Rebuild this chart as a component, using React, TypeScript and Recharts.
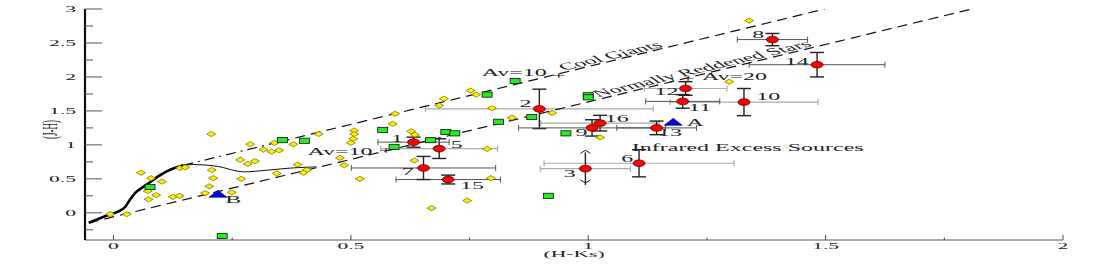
import React from "react";
import { ComposedChart, Scatter, XAxis, YAxis, ErrorBar } from "recharts";

// The source figure is stretched sideways, so text and markers are drawn wide.
const SX = 2.4;
const FONT = "'Liberation Serif', 'Times New Roman', serif";

const xDomain = [-0.06, 2];
const yDomain = [-0.4, 3];
const xTicks = [0, 0.25, 0.5, 0.75, 1, 1.25, 1.5, 1.75, 2];
const xTickLabels = ["0", "", "0.5", "", "1", "", "1.5", "", "2"];
const yTicks = [-0.25, 0, 0.25, 0.5, 0.75, 1, 1.25, 1.5, 1.75, 2, 2.25, 2.5, 2.75, 3];
const yTickLabels = ["", "0", "", "0.5", "", "1", "", "1.5", "", "2", "", "2.5", "", "3"];

// intrinsic colour locus (thick giant branch + thin dwarf part)
const locusThick = [
  { x: -0.052, y: -0.147 }, { x: -0.018, y: -0.05 }, { x: 0.007, y: 0.01 },
  { x: 0.025, y: 0.09 }, { x: 0.035, y: 0.196 }, { x: 0.046, y: 0.294 },
  { x: 0.06, y: 0.368 }, { x: 0.077, y: 0.45 }, { x: 0.095, y: 0.539 },
  { x: 0.112, y: 0.61 }, { x: 0.13, y: 0.662 }, { x: 0.147, y: 0.7 },
];
const locusThin = [
  { x: 0.147, y: 0.7 }, { x: 0.168, y: 0.71 }, { x: 0.218, y: 0.685 },
  { x: 0.274, y: 0.603 }, { x: 0.323, y: 0.627 }, { x: 0.379, y: 0.662 },
  { x: 0.428, y: 0.676 },
];

// reddening vectors
const giantsDashDot = [{ x: 0.147, y: 0.7 }, { x: 0.35, y: 1.046 }];
const giantsDashed = [{ x: 0.35, y: 1.046 }, { x: 1.498, y: 3.0 }];
const dwarfLine = [{ x: -0.052, y: -0.147 }, { x: 1.808, y: 3.0 }];

const yellowStars = [
  { x: 0.206, y: 1.16 }, { x: 0.058, y: 0.59 }, { x: 0.079, y: 0.51 }, { x: 0.102, y: 0.46 },
  { x: 0.072, y: 0.32 }, { x: 0.09, y: 0.26 }, { x: 0.074, y: 0.2 }, { x: 0.125, y: 0.235 },
  { x: 0.139, y: 0.25 }, { x: -0.007, y: -0.02 }, { x: 0.028, y: -0.02 }, { x: 0.14, y: 0.66 },
  { x: 0.151, y: 0.67 }, { x: 0.207, y: 0.63 }, { x: 0.21, y: 0.51 }, { x: 0.202, y: 0.39 },
  { x: 0.193, y: 0.29 }, { x: 0.249, y: 0.3 }, { x: 0.288, y: 1.01 }, { x: 0.339, y: 1.03 },
  { x: 0.379, y: 1.01 }, { x: 0.432, y: 1.16 }, { x: 0.316, y: 0.93 }, { x: 0.333, y: 0.9 },
  { x: 0.349, y: 0.92 }, { x: 0.267, y: 0.78 }, { x: 0.283, y: 0.72 }, { x: 0.298, y: 0.76 },
  { x: 0.388, y: 0.71 }, { x: 0.344, y: 0.58 }, { x: 0.407, y: 0.63 }, { x: 0.4, y: 0.59 },
  { x: 0.269, y: 0.5 }, { x: 0.507, y: 1.21 }, { x: 0.507, y: 1.16 }, { x: 0.505, y: 1.09 },
  { x: 0.5, y: 1.03 }, { x: 0.477, y: 0.81 }, { x: 0.486, y: 0.7 }, { x: 0.519, y: 0.5 },
  { x: 0.593, y: 1.46 }, { x: 0.588, y: 1.31 }, { x: 0.696, y: 1.68 }, { x: 0.686, y: 1.58 },
  { x: 0.752, y: 1.8 }, { x: 0.764, y: 1.74 }, { x: 0.797, y: 1.54 }, { x: 0.627, y: 1.2 },
  { x: 0.635, y: 1.15 }, { x: 0.839, y: 1.4 }, { x: 0.634, y: 0.77 }, { x: 0.787, y: 0.94 },
  { x: 0.795, y: 0.51 }, { x: 0.745, y: 0.18 }, { x: 0.67, y: 0.07 }, { x: 0.924, y: 1.47 },
  { x: 1.025, y: 1.11 }, { x: 1.339, y: 2.83 }, { x: 1.297, y: 1.93 },
];

const greenStars = [
  { x: 0.077, y: 0.38 }, { x: 0.229, y: -0.34 }, { x: 0.356, y: 1.07 }, { x: 0.402, y: 1.06 },
  { x: 0.567, y: 1.22 }, { x: 0.846, y: 1.94 }, { x: 0.787, y: 1.74 }, { x: 0.7, y: 1.19 },
  { x: 0.719, y: 1.17 }, { x: 0.668, y: 1.07 }, { x: 0.591, y: 0.97 }, { x: 0.811, y: 1.34 },
  { x: 0.881, y: 1.41 }, { x: 0.916, y: 0.25 }, { x: 1.0, y: 1.73 }, { x: 1.0, y: 1.7 },
  { x: 0.953, y: 1.17 },
];

const blueStars = [{ x: 1.179, y: 1.34 }, { x: 0.22, y: 0.28 }];

// numbered sources, split by how dark their H-Ks error bar is drawn
const sourcesDark = [
  { id: "1", x: 0.632, y: 1.04, ex: 0.075, ey: 0.074 },
  { id: "7", x: 0.653, y: 0.66, ex: 0.152, ey: 0.17 },
  { id: "15", x: 0.705, y: 0.49, ex: 0.11, ey: 0.065 },
  { id: "9", x: 1.008, y: 1.25, ex: 0.155, ey: 0.12 },
  { id: "13", x: 1.144, y: 1.25, ex: 0.084, ey: 0.1 },
  { id: "8", x: 1.388, y: 2.55, ex: 0.074, ey: 0.09 },
  { id: "14", x: 1.482, y: 2.18, ex: 0.143, ey: 0.18 },
  { id: "11", x: 1.199, y: 1.64, ex: 0.078, ey: 0.1 },
];
const sourcesLight = [
  { id: "5", x: 0.686, y: 0.945, ex: 0.123, ey: 0.145 },
  { id: "2", x: 0.897, y: 1.53, ex: 0.24, ey: 0.29 },
  { id: "16", x: 1.025, y: 1.32, ex: 0.125, ey: 0.115 },
  { id: "12", x: 1.205, y: 1.83, ex: 0.087, ey: 0.1 },
  { id: "6", x: 1.107, y: 0.73, ex: 0.2, ey: 0.2 },
  { id: "10", x: 1.328, y: 1.63, ex: 0.156, ey: 0.2 },
];
const sourceLimits = [{ id: "3", x: 0.994, y: 0.65, ex: 0.095, ey: 0.24 }];
const limitUp = [{ x: 0.994, y: 0.92 }];
const limitDown = [{ x: 0.994, y: 0.44 }];

const sourceLabels = [
  { text: "1", x: 0.597, y: 1.085 }, { text: "5", x: 0.723, y: 1.003 },
  { text: "7", x: 0.62, y: 0.612 }, { text: "15", x: 0.755, y: 0.4 },
  { text: "2", x: 0.868, y: 1.607 }, { text: "16", x: 1.06, y: 1.387 },
  { text: "9", x: 0.986, y: 1.185 }, { text: "13", x: 1.172, y: 1.185 },
  { text: "3", x: 0.961, y: 0.578 }, { text: "6", x: 1.082, y: 0.794 },
  { text: "12", x: 1.165, y: 1.78 }, { text: "11", x: 1.235, y: 1.544 },
  { text: "10", x: 1.379, y: 1.706 }, { text: "8", x: 1.358, y: 2.622 },
  { text: "14", x: 1.439, y: 2.229 }, { text: "A", x: 1.225, y: 1.328 },
  { text: "B", x: 0.252, y: 0.196 },
];

const notes = [
  { text: "Av=10", x: 0.844, y: 2.064 },
  { text: "+", x: 0.938, y: 2.02 },
  { text: "+", x: 1.21, y: 1.98 },
  { text: "Av=20", x: 1.308, y: 2.0 },
  { text: "Av=10", x: 0.477, y: 0.906 },
  { text: "+", x: 0.574, y: 0.92 },
  { text: "Infrared Excess Sources", x: 1.336, y: 0.96 },
];
const slopedNotes = [
  { text: "Cool Giants", x: 1.046, y: 2.31 },
  { text: "Normally Reddened Stars", x: 1.239, y: 2.122 },
];

function StretchText({ x, y, text, anchor = "middle", angle = 0, size = 10, fill = "#222" }: any) {
  return (
    <text
      transform={`translate(${x},${y}) scale(${SX},1) rotate(${angle})`}
      textAnchor={anchor}
      fontSize={size}
      fontFamily={FONT}
      fill={fill}
      dy="0.33em"
    >
      {text}
    </text>
  );
}

const Empty = () => <g />;

const Diamond = ({ cx, cy }: any) => (
  <path
    d={`M${cx - 4.5},${cy}L${cx},${cy - 2.6}L${cx + 4.5},${cy}L${cx},${cy + 2.6}Z`}
    fill="#ffee00"
    stroke="#6b6b00"
    strokeWidth={0.7}
  />
);
const Square = ({ cx, cy }: any) => (
  <rect x={cx - 5} y={cy - 2.6} width={10} height={5.2} fill="#22ee22" stroke="#111" strokeWidth={0.8} />
);
const Triangle = ({ cx, cy }: any) => (
  <path d={`M${cx - 9},${cy + 3.5}L${cx},${cy - 3.5}L${cx + 9},${cy + 3.5}Z`} fill="#0000dd" stroke="#000066" strokeWidth={0.6} />
);
const RedDot = ({ cx, cy }: any) => (
  <ellipse cx={cx} cy={cy} rx={6} ry={3.3} fill="#ff0000" stroke="#550000" strokeWidth={0.8} />
);
const ArrowUp = ({ cx, cy }: any) => (
  <path d={`M${cx - 5},${cy + 3}L${cx},${cy}L${cx + 5},${cy + 3}`} fill="none" stroke="#222" strokeWidth={1} />
);
const ArrowDown = ({ cx, cy }: any) => (
  <path d={`M${cx - 5},${cy - 3}L${cx},${cy}L${cx + 5},${cy - 3}`} fill="none" stroke="#222" strokeWidth={1} />
);
const NoteText = ({ cx, cy, payload }: any) => <StretchText x={cx} y={cy} text={payload.text} />;
const SlopedText = ({ cx, cy, payload }: any) => (
  <StretchText x={cx} y={cy} text={payload.text} angle={-30} />
);

const BottomTick = ({ x, y, index }: any) => {
  const label = xTickLabels[index];
  return (
    <g>
      <line x1={x} x2={x} y1={y} y2={y - (label ? 5 : 2.5)} stroke="#444" />
      {label ? <StretchText x={x} y={y + 6} text={label} size={9} /> : null}
    </g>
  );
};
const TopTick = ({ x, y, index }: any) => (
  <line x1={x} x2={x} y1={y} y2={y + (xTickLabels[index] ? 6 : 3)} stroke="#444" />
);
const LeftTick = ({ x, y, index }: any) => {
  const label = yTickLabels[index];
  const major = index % 2 === 1;
  return (
    <g>
      <line x1={x} x2={x + (major ? 17 : 8)} y1={y} y2={y} stroke="#555" />
      {label ? <StretchText x={x - 9} y={y} text={label} anchor="end" size={9} /> : null}
    </g>
  );
};
const RightTick = ({ x, y, index }: any) => (
  <line x1={x} x2={x - (index % 2 === 1 ? 17 : 9)} y1={y} y2={y} stroke="#555" />
);

const XTitle = ({ viewBox }: any) => (
  <StretchText x={viewBox.x + viewBox.width / 2} y={viewBox.y + 14} text="(H-Ks)" size={9} />
);
const YTitle = ({ viewBox }: any) => (
  <StretchText x={50} y={viewBox.y + viewBox.height / 2 + 5} text="(J-H)" angle={-90} size={9} />
);

const lineSeries = (data: any[], style: any, key: string, joint = "linear") => (
  <Scatter
    key={key}
    data={data}
    shape={Empty}
    line={style}
    lineJointType={joint as any}
    legendType="none"
    isAnimationActive={false}
  />
);

export default function App() {
  return (
    <div style={{ position: "absolute", left: 0, top: 0, background: "#fff" }}>
      <ComposedChart width={1100} height={268} margin={{ top: 9, right: 37, bottom: 8, left: 45 }}>
        <XAxis
          type="number"
          dataKey="x"
          domain={xDomain}
          allowDataOverflow
          ticks={xTicks}
          interval={0}
          tick={BottomTick}
          tickLine={false}
          tickSize={0}
          tickMargin={0}
          height={20}
          axisLine={{ stroke: "#555", strokeWidth: 1 }}
          label={{ content: XTitle }}
        />
        <XAxis
          xAxisId="top"
          orientation="top"
          mirror
          type="number"
          dataKey="x"
          domain={xDomain}
          allowDataOverflow
          ticks={xTicks}
          interval={0}
          tick={TopTick}
          tickLine={false}
          tickSize={0}
          tickMargin={0}
          height={0}
          axisLine={{ stroke: "#555", strokeWidth: 1 }}
        />
        <YAxis
          type="number"
          dataKey="y"
          domain={yDomain}
          allowDataOverflow
          ticks={yTicks}
          interval={0}
          tick={LeftTick}
          tickLine={false}
          tickSize={0}
          tickMargin={0}
          width={40}
          axisLine={{ stroke: "#111", strokeWidth: 2.2 }}
          label={{ content: YTitle }}
        />
        <YAxis
          yAxisId="right"
          orientation="right"
          mirror
          type="number"
          dataKey="y"
          domain={yDomain}
          allowDataOverflow
          ticks={yTicks}
          interval={0}
          tick={RightTick}
          tickLine={false}
          tickSize={0}
          tickMargin={0}
          width={0}
          axisLine={{ stroke: "#111", strokeWidth: 2.2 }}
        />

        {lineSeries(dwarfLine, { stroke: "#111", strokeWidth: 1.2, strokeDasharray: "10 6" }, "dwarf")}
        {lineSeries(giantsDashDot, { stroke: "#111", strokeWidth: 1.2, strokeDasharray: "10 5 2 5" }, "gdd")}
        {lineSeries(giantsDashed, { stroke: "#111", strokeWidth: 1.2, strokeDasharray: "10 6" }, "gd")}
        {lineSeries(locusThin, { stroke: "#111", strokeWidth: 1 }, "thin", "monotoneX")}
        {lineSeries(locusThick, { stroke: "#000", strokeWidth: 2.6 }, "thick", "monotoneX")}

        <Scatter data={yellowStars} shape={Diamond} isAnimationActive={false} />
        <Scatter data={greenStars} shape={Square} isAnimationActive={false} />

        <Scatter data={sourcesLight} shape={RedDot} isAnimationActive={false}>
          <ErrorBar dataKey="ex" direction="x" width={3} stroke="#aaa" strokeWidth={1.2} isAnimationActive={false} />
          <ErrorBar dataKey="ey" direction="y" width={7} stroke="#222" strokeWidth={1.4} isAnimationActive={false} />
        </Scatter>
        <Scatter data={sourceLimits} shape={RedDot} isAnimationActive={false}>
          <ErrorBar dataKey="ex" direction="x" width={3} stroke="#aaa" strokeWidth={1.2} isAnimationActive={false} />
          <ErrorBar dataKey="ey" direction="y" width={0} stroke="#222" strokeWidth={1.4} isAnimationActive={false} />
        </Scatter>
        <Scatter data={sourcesDark} shape={RedDot} isAnimationActive={false}>
          <ErrorBar dataKey="ex" direction="x" width={3} stroke="#555" strokeWidth={1} isAnimationActive={false} />
          <ErrorBar dataKey="ey" direction="y" width={7} stroke="#222" strokeWidth={1.4} isAnimationActive={false} />
        </Scatter>
        <Scatter data={limitUp} shape={ArrowUp} isAnimationActive={false} />
        <Scatter data={limitDown} shape={ArrowDown} isAnimationActive={false} />

        <Scatter data={blueStars} shape={Triangle} isAnimationActive={false} />

        <Scatter data={sourceLabels} shape={NoteText} isAnimationActive={false} />
        <Scatter data={notes} shape={NoteText} isAnimationActive={false} />
        <Scatter data={slopedNotes} shape={SlopedText} isAnimationActive={false} />
      </ComposedChart>
    </div>
  );
}
